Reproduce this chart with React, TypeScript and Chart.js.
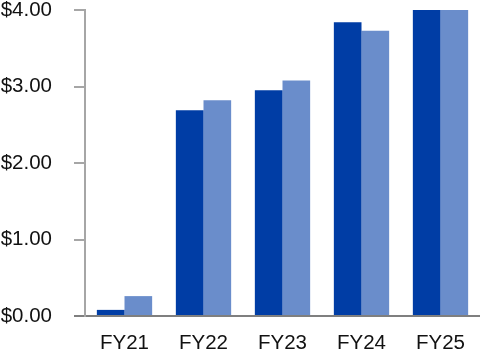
import React, { useEffect, useRef } from "react";
import { Chart, registerables } from "chart.js";

Chart.register(...registerables);

const categories = ["FY21", "FY22", "FY23", "FY24", "FY25"];
const seriesA = [0.08, 2.69, 2.95, 3.84, 4.0];
const seriesB = [0.26, 2.82, 3.08, 3.73, 4.0];
const yTicks = [0, 1, 2, 3, 4];

const FONT = "'Liberation Sans', Arial, sans-serif";

export default function App() {
  const ref = useRef<HTMLCanvasElement | null>(null);
  useEffect(() => {
    document.body.style.margin = "0";
    const canvas = ref.current;
    if (!canvas) return;
    const chart = new Chart(canvas, {
      type: "bar",
      data: {
        labels: categories,
        datasets: [
          {
            data: seriesA,
            backgroundColor: "#003DA5",
            categoryPercentage: 0.7,
            barPercentage: 1,
          },
          {
            data: seriesB,
            backgroundColor: "#6A8DCB",
            categoryPercentage: 0.7,
            barPercentage: 1,
          },
        ],
      },
      options: {
        animation: false,
        responsive: false,
        maintainAspectRatio: false,
        layout: { padding: { top: 10, right: 0, left: 0, bottom: 0 } },
        plugins: { legend: { display: false }, tooltip: { enabled: false } },
        scales: {
          x: {
            grid: { display: false, drawTicks: false },
            border: { display: true, color: "#7f7f7f", width: 2 },
            ticks: {
              color: "#111",
              font: { family: FONT, size: 20.5 },
              padding: 15,
            },
            afterFit: (s: any) => {
              s.height = 48;
              s.paddingLeft = 0;
              s.paddingRight = 0;
            },
          },
          y: {
            min: 0,
            max: 4,
            afterBuildTicks: (s: any) => {
              s.ticks = yTicks.map((v) => ({ value: v }));
            },
            grid: {
              drawOnChartArea: false,
              drawTicks: true,
              tickLength: 11,
              color: (c: any) => (c.tick && c.tick.value === 0 ? "#7f7f7f" : "#a6a6a6"),
              lineWidth: 2,
            },
            border: { display: true, color: "#a6a6a6", width: 2 },
            ticks: {
              color: "#111",
              font: { family: FONT, size: 20.5 },
              padding: 22,
              callback: (v: any) => "$" + Number(v).toFixed(2),
            },
            afterFit: (s: any) => {
              s.width = 85;
              s.paddingTop = 0;
              s.paddingBottom = 0;
            },
          },
        },
      },
    });
    return () => chart.destroy();
  }, []);
  return (
    <div style={{ position: "fixed", left: 0, top: 0, width: 480, height: 364 }}>
      <canvas ref={ref} width={480} height={364} style={{ width: 480, height: 364 }} />
    </div>
  );
}
